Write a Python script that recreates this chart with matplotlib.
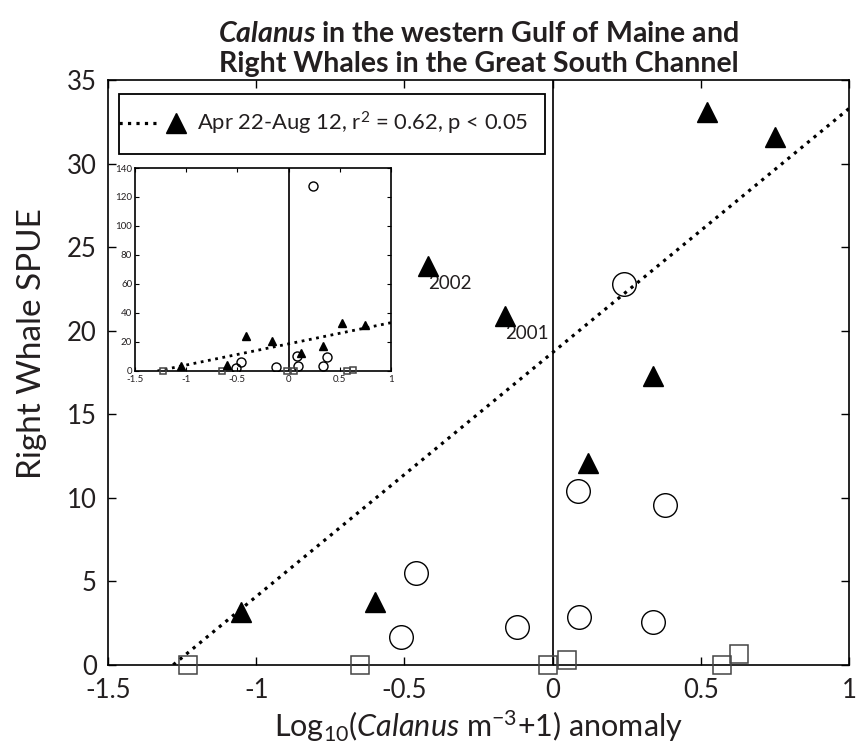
import matplotlib
matplotlib.use("Agg")
import matplotlib.pyplot as plt
from matplotlib.lines import Line2D
from matplotlib.legend_handler import HandlerTuple
import numpy as np

plt.rcParams["font.family"] = ["Lato", "DejaVu Sans"]
plt.rcParams["mathtext.fontset"] = "custom"
plt.rcParams["mathtext.rm"] = "Lato"
plt.rcParams["mathtext.it"] = "Lato:italic"
plt.rcParams["mathtext.bf"] = "Lato:bold"
plt.rcParams["mathtext.bfit"] = "Lato:italic:bold"

TXT = "#231f20"

# Apr 22-Aug 12 (filled triangles)
tri_x = [-1.05, -0.60, -0.42, -0.16, 0.12, 0.34, 0.52, 0.75]
tri_y = [3.2, 3.8, 23.9, 20.9, 12.1, 17.3, 33.1, 31.6]
tri_labels = {2: "2002", 3: "2001"}

# open circles
circ_x = [-0.51, -0.46, -0.12, 0.085, 0.09, 0.24, 0.34, 0.38]
circ_y = [1.7, 5.5, 2.3, 10.4, 2.9, 22.8, 2.6, 9.6]
circ_y_inset = [2.3, 6.0, 2.8, 10.6, 3.2, 127.4, 3.2, 9.9]

# open squares
sq_x = [-1.23, -0.65, -0.015, 0.05, 0.57, 0.63]
sq_y = [0.0, 0.0, 0.0, 0.3, 0.0, 0.65]

# regression line through triangles
fit_x = [-1.28, 1.0]
slope, intercept = 14.6, 18.7


def draw_points(ax, cy, s_tri, s_circ, s_sq, lw_line):
    fx = np.array(fit_x)
    ax.plot(fx, slope * fx + intercept, linestyle=":", color="black", lw=lw_line,
            zorder=2)
    ax.axvline(0, color=TXT, lw=1.4, zorder=1)
    ax.plot(circ_x, cy, "o", ms=s_circ, mfc="none", mec="black", mew=1.0,
            zorder=3)
    ax.plot(sq_x, sq_y, "s", ms=s_sq, mfc="none", mec="#444444", mew=1.1,
            zorder=3, clip_on=False)
    ax.plot(tri_x, tri_y, "^", ms=s_tri, color="black", zorder=4)


fig = plt.figure(figsize=(8.56, 7.49), dpi=100)
ax = fig.add_axes([0.1262, 0.1121, 0.8657, 0.781])

draw_points(ax, circ_y, 14, 17, 13.5, 2.3)
for i, lab in tri_labels.items():
    ax.annotate(lab, (tri_x[i], tri_y[i]), xytext=(0, -7), textcoords="offset points",
                ha="left", va="top", fontsize=13.5, color=TXT)

ax.set_xlim(-1.5, 1)
ax.set_ylim(0, 35)
ax.set_xticks(np.arange(-1.5, 1.01, 0.5))
ax.set_xticklabels(["-1.5", "-1", "-0.5", "0", "0.5", "1"])
ax.set_yticks(np.arange(0, 36, 5))
ax.tick_params(direction="in", top=True, right=True, labelsize=18.5, length=6,
               width=1, colors="black", labelcolor=TXT)
ax.tick_params(axis="x", pad=9)
ax.tick_params(axis="y", pad=8)
for sp in ax.spines.values():
    sp.set_linewidth(1.2)

ax.set_ylabel("Right Whale SPUE", fontsize=24, color=TXT)
ax.yaxis.set_label_coords(-0.082, 0.55)
ax.set_xlabel(r"Log$_{10}$($\it{Calanus}$ m$^{-3}$+1) anomaly", fontsize=22,
              color=TXT, labelpad=4)
ax.set_title(r"$\mathbfit{Calanus}$ in the western Gulf of Maine and" + "\n"
             + "Right Whales in the Great South Channel",
             fontsize=20.5, fontweight="bold", color=TXT, pad=6, linespacing=1.2)

h_line = Line2D([], [], linestyle=":", color="black", lw=2.3)
h_tri = Line2D([], [], linestyle="none", marker="^", ms=14, color="black")
leg = ax.legend([(h_line, h_tri)], [r"Apr 22-Aug 12, r$^2$ = 0.62, p < 0.05"],
                handler_map={tuple: HandlerTuple(ndivide=None, pad=0.11, xpad=-0.75)},
                loc="upper left", bbox_to_anchor=(0.0148, 0.977), borderaxespad=0,
                fancybox=False, edgecolor="black", framealpha=1, fontsize=15.8,
                handlelength=2.7, handletextpad=0.1, borderpad=0.75)
leg.get_frame().set_linewidth(1.3)
for t in leg.get_texts():
    t.set_color(TXT)

# inset with full y range
axin = fig.add_axes([0.1577, 0.5047, 0.299, 0.271])
draw_points(axin, circ_y_inset, 5.5, 6.5, 5, 2.0)
axin.set_xlim(-1.5, 1)
axin.set_ylim(0, 140)
axin.set_xticks(np.arange(-1.5, 1.01, 0.5))
axin.set_xticklabels(["-1.5", "-1", "-0.5", "0", "0.5", "1"])
axin.set_yticks(np.arange(0, 141, 20))
axin.tick_params(direction="in", top=True, right=True, labelsize=7, length=3,
                 width=0.8, labelcolor=TXT, pad=2)
axin.tick_params(axis="x", pad=3)
for sp in axin.spines.values():
    sp.set_linewidth(1.2)

fig.savefig("out.png", dpi=100)
